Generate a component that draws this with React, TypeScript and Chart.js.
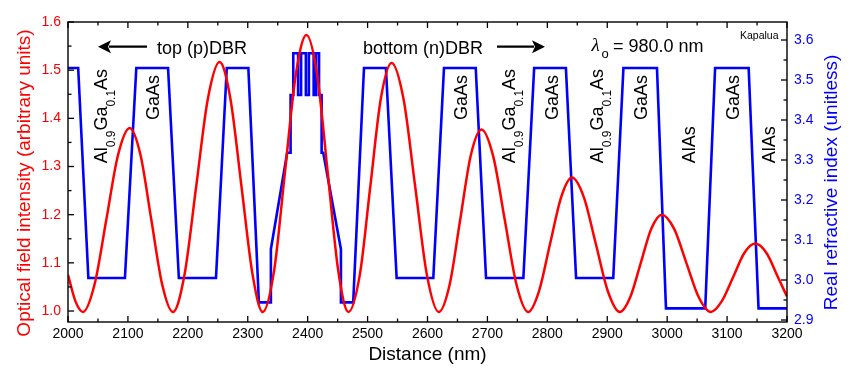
import React, { useEffect, useRef } from "react";
import { Chart, registerables } from "chart.js";

Chart.register(...registerables);

// ---- data ----
const intensityX = [
  2000, 2012.5, 2025, 2044.5, 2064, 2083.5, 2103, 2121, 2139, 2157, 2175,
  2194.5, 2214, 2233.5, 2253, 2271, 2289.5, 2308, 2325,
  2344, 2362, 2380, 2398, 2416, 2433.5, 2451, 2468,
  2487, 2504.5, 2522, 2540, 2560, 2579.5, 2599, 2619,
  2637, 2654.5, 2672, 2690, 2709.5, 2729, 2748.5, 2768,
  2786, 2804.5, 2823, 2841, 2861, 2881, 2901, 2921,
  2938.5, 2956, 2973.5, 2991, 3011.5, 3032, 3052.5, 3073,
  3091.5, 3110, 3128.5, 3147, 3166, 3185, 3200,
];
const intensityY = [
  1.075, 1.02, 0.998, 1.056, 1.19, 1.324, 1.38, 1.324, 1.19, 1.056, 0.998,
  1.076, 1.259, 1.441, 1.517, 1.441, 1.259, 1.076, 0.998,
  1.084, 1.287, 1.489, 1.573, 1.489, 1.287, 1.084, 0.998,
  1.075, 1.258, 1.44, 1.515, 1.44, 1.258, 1.075, 0.998,
  1.055, 1.189, 1.322, 1.377, 1.322, 1.189, 1.055, 0.998,
  1.041, 1.139, 1.236, 1.277, 1.236, 1.139, 1.041, 0.998,
  1.029, 1.1, 1.171, 1.2, 1.171, 1.1, 1.029, 0.998,
  1.021, 1.07, 1.12, 1.14, 1.12, 1.07, 1.03,
];

const indexX = [
  2000, 2017, 2034, 2095, 2114, 2167, 2185, 2247, 2265, 2301,
  2318.6, 2338.6, 2338.6, 2365.8, 2371.5, 2371.5, 2376,
  2376, 2384, 2384, 2389, 2389, 2397, 2397, 2402, 2402, 2410, 2410, 2414, 2414, 2419, 2419,
  2423.3, 2423.3, 2426, 2455.5, 2455.5, 2476,
  2494, 2530.6, 2548.5, 2609.7, 2627.5, 2680.5, 2697.7, 2760, 2778, 2831,
  2848, 2910, 2927, 2983, 2998, 3063.5, 3080, 3136, 3152.5, 3200,
];
const indexY = [
  3.53, 3.53, 3.005, 3.005, 3.53, 3.53, 3.005, 3.005, 3.53, 3.53,
  2.944, 2.944, 3.077, 3.318, 3.318, 3.4625, 3.4625,
  3.567, 3.567, 3.4625, 3.4625, 3.567, 3.567, 3.4625, 3.4625, 3.567, 3.567, 3.4625, 3.4625, 3.567, 3.567, 3.4625,
  3.4625, 3.318, 3.318, 3.077, 2.944, 2.944,
  3.53, 3.53, 3.005, 3.005, 3.53, 3.53, 3.005, 3.005, 3.53, 3.53,
  3.005, 3.005, 3.53, 3.53, 2.929, 2.929, 3.53, 3.53, 2.929, 2.929,
];

const xTicks = [2000, 2100, 2200, 2300, 2400, 2500, 2600, 2700, 2800, 2900, 3000, 3100, 3200];
const xMinorTicks = [2050, 2150, 2250, 2350, 2450, 2550, 2650, 2750, 2850, 2950, 3050, 3150];
const leftTicks = [1.0, 1.1, 1.2, 1.3, 1.4, 1.5, 1.6];
const leftMinorTicks = [1.05, 1.15, 1.25, 1.35, 1.45, 1.55];
const rightTicks = [2.9, 3.0, 3.1, 3.2, 3.3, 3.4, 3.5, 3.6];
const rightMinorTicks = [2.95, 3.05, 3.15, 3.25, 3.35, 3.45, 3.55];

const SANS = "'Liberation Sans', Arial, sans-serif";
const RED = "#ff0000";
const BLUE = "#0000ff";

function sans(size: number) {
  return `${size}px ${SANS}`;
}

type Part = { t: string; sub?: boolean };

function drawRotated(ctx: CanvasRenderingContext2D, parts: Part[], xb: number, ys: number) {
  ctx.save();
  ctx.translate(xb, ys);
  ctx.rotate(-Math.PI / 2);
  ctx.textAlign = "left";
  ctx.textBaseline = "alphabetic";
  let pos = 0;
  for (const p of parts) {
    ctx.font = p.sub ? sans(12) : sans(18);
    ctx.fillText(p.t, pos, p.sub ? 8 : 0);
    pos += ctx.measureText(p.t).width;
  }
  ctx.restore();
}

const alga: Part[] = [
  { t: "Al" },
  { t: "0.9", sub: true },
  { t: "Ga" },
  { t: "0.1", sub: true },
  { t: "As" },
];

function arrow(ctx: CanvasRenderingContext2D, from: number, to: number, y: number) {
  const dir = Math.sign(to - from);
  const headLen = 13;
  ctx.save();
  ctx.strokeStyle = "#000";
  ctx.fillStyle = "#000";
  ctx.lineWidth = 2.2;
  ctx.beginPath();
  ctx.moveTo(from, y);
  ctx.lineTo(to - dir * (headLen - 2), y);
  ctx.stroke();
  ctx.beginPath();
  ctx.moveTo(to, y);
  ctx.lineTo(to - dir * headLen, y - 6.5);
  ctx.lineTo(to - dir * (headLen - 3), y);
  ctx.lineTo(to - dir * headLen, y + 6.5);
  ctx.closePath();
  ctx.fill();
  ctx.restore();
}

const decorPlugin = {
  id: "decor",
  afterDatasetsDraw(chart: any) {
    const { ctx, chartArea: a, scales } = chart;
    const sx = scales.x;
    const yl = scales.y;
    const yr = scales.y1;
    ctx.save();
    ctx.strokeStyle = "#000";
    ctx.lineWidth = 1.3;
    const line = (x1: number, y1: number, x2: number, y2: number) => {
      ctx.beginPath();
      ctx.moveTo(x1, y1);
      ctx.lineTo(x2, y2);
      ctx.stroke();
    };
    const MAJ = 6;
    const MIN = 3.5;
    xTicks.forEach((v) => {
      const p = sx.getPixelForValue(v);
      line(p, a.bottom, p, a.bottom - MAJ);
      line(p, a.top, p, a.top + MAJ);
    });
    xMinorTicks.forEach((v) => {
      const p = sx.getPixelForValue(v);
      line(p, a.bottom, p, a.bottom - MIN);
      line(p, a.top, p, a.top + MIN);
    });
    leftTicks.forEach((v) => {
      const p = yl.getPixelForValue(v);
      line(a.left, p, a.left + MAJ, p);
    });
    leftMinorTicks.forEach((v) => {
      const p = yl.getPixelForValue(v);
      line(a.left, p, a.left + MIN, p);
    });
    rightTicks.forEach((v) => {
      const p = yr.getPixelForValue(v);
      line(a.right, p, a.right - MAJ, p);
    });
    rightMinorTicks.forEach((v) => {
      const p = yr.getPixelForValue(v);
      line(a.right, p, a.right - MIN, p);
    });
    ctx.lineWidth = 1.4;
    ctx.strokeRect(a.left, a.top, a.right - a.left, a.bottom - a.top);
    ctx.restore();
  },
  afterDraw(chart: any) {
    const { ctx } = chart;
    ctx.save();
    ctx.fillStyle = "#000";
    ctx.textAlign = "left";
    ctx.textBaseline = "alphabetic";

    // DBR headings
    ctx.font = sans(18);
    ctx.fillText("top (p)DBR", 157, 53.5);
    ctx.fillText("bottom (n)DBR", 363, 53.5);
    arrow(ctx, 147, 98, 46.7);
    arrow(ctx, 497, 545, 46.7);

    // lambda
    ctx.font = `italic 19px 'Liberation Serif', serif`;
    ctx.fillText("λ", 591.5, 51);
    ctx.font = sans(13);
    ctx.fillText("o", 601.5, 57.5);
    ctx.font = sans(18);
    ctx.fillText("= 980.0 nm", 613, 51.7);

    ctx.font = sans(10.5);
    ctx.fillText("Kapalua", 740, 39);

    // layer labels
    drawRotated(ctx, alga, 106.7, 163.3);
    drawRotated(ctx, alga, 515, 163.3);
    drawRotated(ctx, alga, 603.3, 163.3);
    [159, 467.3, 558.3, 647.3, 739].forEach((x) => drawRotated(ctx, [{ t: "GaAs" }], x, 120));
    [695, 775].forEach((x) => drawRotated(ctx, [{ t: "AlAs" }], x, 163.3));

    // axis titles
    ctx.font = sans(19);
    ctx.textAlign = "center";
    ctx.fillText("Distance (nm)", 427.5, 360);

    ctx.save();
    ctx.translate(29.5, 183);
    ctx.rotate(-Math.PI / 2);
    ctx.fillStyle = RED;
    ctx.textAlign = "center";
    ctx.fillText("Optical field intensity (arbitrary units)", 0, 0);
    ctx.restore();

    ctx.save();
    ctx.translate(837, 182.5);
    ctx.rotate(-Math.PI / 2);
    ctx.fillStyle = BLUE;
    ctx.textAlign = "center";
    ctx.fillText("Real refractive index (unitless)", 0, 0);
    ctx.restore();

    ctx.restore();
  },
};

export default function App() {
  const ref = useRef<HTMLCanvasElement | null>(null);

  useEffect(() => {
    if (!ref.current) return;
    const tickFont = { family: SANS, size: 14 };
    const chart = new Chart(ref.current, {
      type: "scatter",
      data: {
        datasets: [
          {
            data: intensityX.map((x, i) => ({ x, y: intensityY[i] })),
            yAxisID: "y",
            showLine: true,
            borderColor: RED,
            borderWidth: 2.5,
            pointRadius: 0,
            cubicInterpolationMode: "monotone",
            fill: false,
          },
          {
            data: indexX.map((x, i) => ({ x, y: indexY[i] })),
            yAxisID: "y1",
            showLine: true,
            borderColor: BLUE,
            borderWidth: 2.6,
            pointRadius: 0,
            tension: 0,
            fill: false,
          },
        ],
      },
      options: {
        responsive: false,
        animation: false,
        events: [],
        layout: { autoPadding: false, padding: { top: 22, left: 0, right: 0, bottom: 0 } },
        plugins: { legend: { display: false }, tooltip: { enabled: false } },
        scales: {
          x: {
            type: "linear",
            position: "bottom",
            min: 2000,
            max: 3200,
            grid: { display: false, drawTicks: false },
            border: { display: false },
            ticks: {
              font: tickFont,
              color: "#000",
              padding: 4,
              autoSkip: false,
              maxRotation: 0,
              callback: (v: any) => String(v),
            },
            afterBuildTicks: (s: any) => {
              s.ticks = xTicks.map((v) => ({ value: v }));
            },
            afterFit: (s: any) => {
              s.height = 50;
            },
          },
          y: {
            type: "linear",
            position: "left",
            min: 0.9772,
            max: 1.6,
            grid: { display: false, drawTicks: false },
            border: { display: false },
            ticks: {
              font: tickFont,
              color: RED,
              padding: 7,
              autoSkip: false,
              callback: (v: any) => Number(v).toFixed(1),
            },
            afterBuildTicks: (s: any) => {
              s.ticks = leftTicks.map((v) => ({ value: v }));
            },
            afterFit: (s: any) => {
              s.width = 68;
            },
          },
          y1: {
            type: "linear",
            position: "right",
            min: 2.895,
            max: 3.645,
            grid: { display: false, drawTicks: false },
            border: { display: false },
            ticks: {
              font: tickFont,
              color: BLUE,
              padding: 7,
              autoSkip: false,
              callback: (v: any) => Number(v).toFixed(1),
            },
            afterBuildTicks: (s: any) => {
              s.ticks = rightTicks.map((v) => ({ value: v }));
            },
            afterFit: (s: any) => {
              s.width = 63;
            },
          },
        },
      },
      plugins: [decorPlugin],
    } as any);
    return () => chart.destroy();
  }, []);

  return (
    <div style={{ position: "fixed", left: 0, top: 0, width: 850, height: 372, background: "#fff" }}>
      <canvas ref={ref} width={850} height={372} style={{ display: "block", width: 850, height: 372 }} />
    </div>
  );
}
